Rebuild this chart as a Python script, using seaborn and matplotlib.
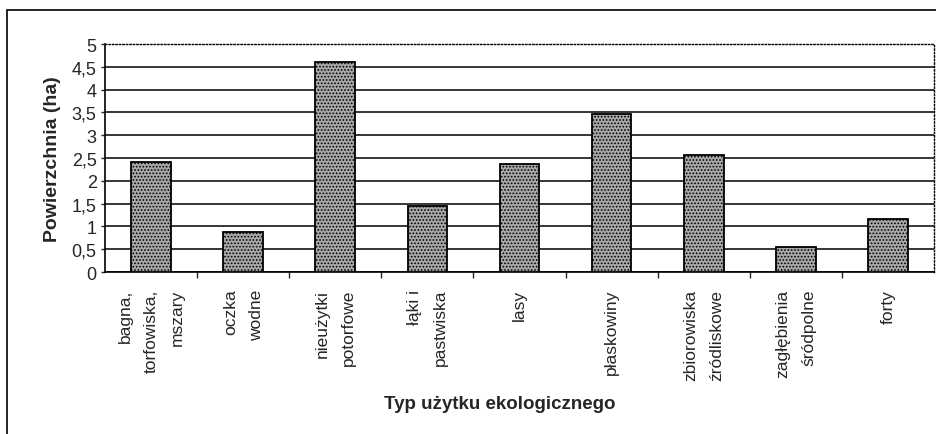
import matplotlib
matplotlib.use('Agg')
import matplotlib.pyplot as plt
import matplotlib.patches as mpatches
import seaborn as sns
import pandas as pd

# data
categories = ['bagna,\ntorfowiska,\nmszary', 'oczka\nwodne', 'nieużytki\npotorfowe',
              'łąki i\npastwiska', 'lasy', 'płaskowiny', 'zbiorowiska\nźródliskowe',
              'zagłębienia\nśródpolne', 'forty']
values = [2.41, 0.87, 4.6, 1.44, 2.37, 3.47, 2.56, 0.54, 1.17]
yticks = [0, 0.5, 1, 1.5, 2, 2.5, 3, 3.5, 4, 4.5, 5]
ytick_labels = ['0', '0,5', '1', '1,5', '2', '2,5', '3', '3,5', '4', '4,5', '5']

df = pd.DataFrame({'typ': categories, 'pow': values})

sns.set_style('white')
plt.rcParams['font.family'] = ['Liberation Sans', 'DejaVu Sans']
plt.rcParams['hatch.linewidth'] = 0.8

fig = plt.figure(figsize=(9.36, 4.35), dpi=100)
ax = fig.add_axes([105 / 936, 1 - 273 / 435, 829 / 936, 228 / 435])

sns.barplot(data=df, x='typ', y='pow', color='#a9a9a9', width=0.43,
            edgecolor='black', linewidth=1.3, ax=ax, zorder=3)
for p in ax.patches:
    p.set_hatch('.....')

ax.set_ylim(0, 5)
ax.set_xlim(-0.5, len(categories) - 0.5)
ax.set_yticks(yticks)
ax.set_yticklabels(ytick_labels, fontsize=13)
ax.yaxis.grid(True, color='black', linewidth=1.1, linestyle='-')
ax.set_axisbelow(True)
# top gridline coincides with the dotted frame
ax.yaxis.get_major_ticks()[-1].gridline.set_visible(False)

ax.set_xticks(range(len(categories)))
ax.set_xticklabels(categories, rotation=90, fontsize=12.5, va='top', ha='center',
                   multialignment='right', linespacing=1.9)
ax.set_xticks([i + 0.5 for i in range(len(categories) - 1)], minor=True)
ax.tick_params(axis='x', which='major', length=0, pad=12)
ax.tick_params(axis='x', which='minor', length=4, width=1, direction='out', bottom=True)
ax.tick_params(axis='y', length=3, width=1, direction='out', left=True, pad=3)

for s in ['left', 'bottom']:
    ax.spines[s].set_color('black')
    ax.spines[s].set_linewidth(1.2)
for s in ['top', 'right']:
    ax.spines[s].set_color('black')
    ax.spines[s].set_linewidth(1.0)
    ax.spines[s].set_linestyle((0, (1, 1.5)))

ax.set_ylabel('Powierzchnia (ha)', fontsize=14, fontweight='bold', labelpad=8)
ax.set_xlabel('')
fig.text(500 / 936, 1 - 405 / 435, 'Typ użytku ekologicznego', fontsize=13.5,
         fontweight='bold', ha='center', va='center')

# outer chart frame (cut off at the bottom and right in the reference)
frame = mpatches.Rectangle((7 / 936, -0.2), 1.2, 1 - 11 / 435 + 0.2,
                           transform=fig.transFigure, fill=False,
                           edgecolor='black', linewidth=1.2)
fig.patches.append(frame)

fig.savefig('out.png', dpi=100)
